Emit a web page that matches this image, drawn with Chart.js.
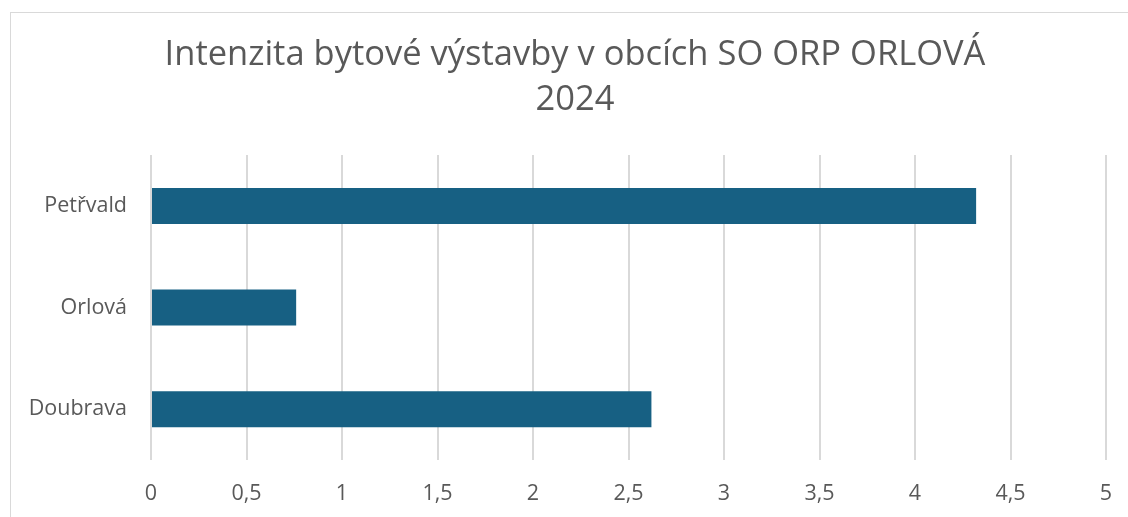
<!DOCTYPE html>
<html>
<head>
<meta charset="utf-8">
<script src="https://cdn.jsdelivr.net/npm/chart.js@4"></script>
<style>
    body { margin: 0; background: #fff; overflow: hidden; }
    #frame { position: absolute; left: 10px; top: 12px; width: 1200px; height: 600px; border: 1px solid #d9d9d9; }
    #wrap { position: absolute; left: 0; top: 0; width: 1128px; height: 517px; }
</style>
</head>
<body>
<div id="frame"></div>
<div id="wrap"><canvas id="chart"></canvas></div>
<script>
const categories = ["Petřvald", "Orlová", "Doubrava"];
const values = [4.32, 0.76, 2.62];
const xTickLabels = ["0", "0,5", "1", "1,5", "2", "2,5", "3", "3,5", "4", "4,5", "5"];
const titleLines = ["Intenzita bytové výstavby v obcích SO ORP ORLOVÁ", "2024"];

// title in the original is centred a bit right of the canvas middle
const shiftTitle = {
    id: "shiftTitle",
    afterLayout(chart) {
        if (chart.titleBlock) chart.titleBlock.left = 44;
    }
};

document.addEventListener('DOMContentLoaded', function () {
    const canvas = document.getElementById("chart");
    new Chart(canvas.getContext("2d"), {
        type: "bar",
        data: {
            labels: categories,
            datasets: [{
                label: "Intenzita",
                data: values,
                backgroundColor: "#176083",
                barPercentage: 0.354,
                categoryPercentage: 1
            }]
        },
        options: {
            indexAxis: "y",
            responsive: true,
            maintainAspectRatio: false,
            animation: false,
            layout: { padding: { left: 0, right: 22, top: 0, bottom: 0 } },
            plugins: {
                legend: { display: false },
                tooltip: { enabled: false },
                title: {
                    display: true,
                    text: titleLines,
                    color: "#595959",
                    font: { family: "Open Sans", size: 34.5, weight: "normal", lineHeight: 1.32 },
                    padding: { top: 32, bottom: 32 }
                }
            },
            scales: {
                x: {
                    min: 0,
                    max: 5,
                    afterFit: function (scale) {
                        scale.height = 57;
                        scale.paddingLeft = 0;
                        scale.paddingRight = 0;
                    },
                    ticks: {
                        stepSize: 0.5,
                        color: "#595959",
                        padding: 21,
                        font: { family: "Open Sans", size: 21.5 },
                        callback: function (v, i) { return xTickLabels[i]; }
                    },
                    grid: { color: "#d9d9d9", lineWidth: 2, drawTicks: false },
                    border: { display: false }
                },
                y: {
                    afterFit: function (scale) { scale.width = 151; },
                    ticks: {
                        color: "#595959",
                        padding: 16,
                        font: { family: "Open Sans", size: 21.5 }
                    },
                    grid: { display: false },
                    border: { display: false }
                }
            }
        },
        plugins: [shiftTitle]
    });
});
</script>
</body>
</html>
